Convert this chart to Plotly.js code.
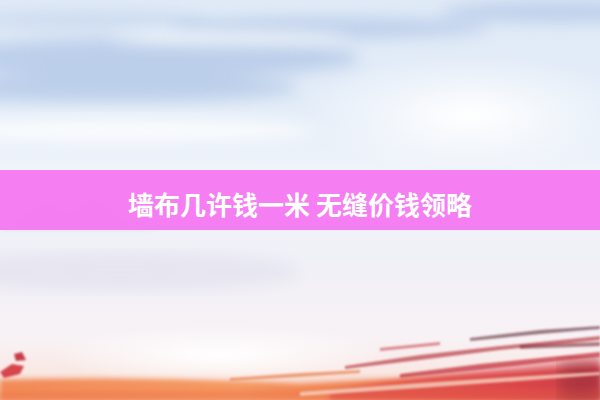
<!DOCTYPE html>
<html>
<head>
<meta charset="utf-8">
<script src="https://cdn.plot.ly/plotly-3.0.1.min.js"></script>
<style>
  html, body { margin: 0; padding: 0; background: #ffffff; }
  #chart { width: 600px; height: 400px; }
</style>
</head>
<body>
<div id="chart"></div>
<script>
// text on the banner
var bannerText = ['墙布几许钱一米', '无缝价钱领略'];
var bannerColor = '#f57af2';

// backdrop picture: sky, glow, sunset strip, brush strokes
var bg = '<svg xmlns="http://www.w3.org/2000/svg" width="600" height="400" viewBox="0 0 600 400">' +
  '<defs>' +
  '<linearGradient id="sky" x1="0" y1="0" x2="0" y2="1">' +
    '<stop offset="0" stop-color="#e0eaf7"/>' +
    '<stop offset="0.3" stop-color="#e4edf8"/>' +
    '<stop offset="0.45" stop-color="#f2f5fb"/>' +
    '<stop offset="0.65" stop-color="#f0f0f7"/>' +
    '<stop offset="0.85" stop-color="#f8f2f5"/>' +
    '<stop offset="0.93" stop-color="#f9e8e4"/>' +
    '<stop offset="1" stop-color="#f4b08c"/>' +
  '</linearGradient>' +
  '<linearGradient id="sun" x1="0" y1="0" x2="1" y2="0">' +
    '<stop offset="0" stop-color="#f28a58"/>' +
    '<stop offset="0.4" stop-color="#f59a62"/>' +
    '<stop offset="0.6" stop-color="#f07e50"/>' +
    '<stop offset="0.85" stop-color="#e2504a"/>' +
    '<stop offset="1" stop-color="#b8384a"/>' +
  '</linearGradient>' +
  '<radialGradient id="glow" cx="0.5" cy="0.5" r="0.5">' +
    '<stop offset="0" stop-color="#ffffff" stop-opacity="1"/>' +
    '<stop offset="1" stop-color="#ffffff" stop-opacity="0"/>' +
  '</radialGradient>' +
  '<filter id="b8"><feGaussianBlur stdDeviation="8"/></filter>' +
  '<filter id="b3"><feGaussianBlur stdDeviation="2.5"/></filter>' +
  '<filter id="b1"><feGaussianBlur stdDeviation="0.8"/></filter>' +
  '</defs>' +
  '<rect width="600" height="400" fill="url(#sky)"/>' +
  // blue streaks in the sky
  '<g filter="url(#b8)" fill="#b3c8e7" opacity="0.8">' +
    '<ellipse cx="150" cy="58" rx="210" ry="20"/>' +
    '<ellipse cx="110" cy="88" rx="190" ry="14"/>' +
    '<ellipse cx="330" cy="28" rx="160" ry="10"/>' +
    '<ellipse cx="560" cy="12" rx="120" ry="10"/>' +
    '<ellipse cx="90" cy="20" rx="120" ry="8" opacity="0.6"/>' +
  '</g>' +
  '<g filter="url(#b8)" fill="#ffffff" opacity="0.8">' +
    '<ellipse cx="230" cy="38" rx="120" ry="6"/>' +
    '<ellipse cx="120" cy="130" rx="200" ry="12"/>' +
  '</g>' +
  '<ellipse cx="470" cy="115" rx="170" ry="60" fill="url(#glow)"/>' +
  // faint hills on the left behind the banner
  '<path d="M0,230 L20,215 L45,200 L70,212 L95,196 L130,222 L160,230 Z" fill="#e7d9ea" opacity="0.7" filter="url(#b3)"/>' +
  // lavender haze under the banner
  '<ellipse cx="120" cy="272" rx="180" ry="20" fill="#e2e1ee" opacity="0.7" filter="url(#b8)"/>' +
  '<ellipse cx="220" cy="355" rx="170" ry="30" fill="url(#glow)"/>' +
  // sunset strip
  '<path d="M0,380 Q150,376 300,384 Q420,378 600,366 L600,400 L0,400 Z" fill="url(#sun)" filter="url(#b3)"/>' +
  '<path d="M0,392 L600,388 L600,400 L0,400 Z" fill="#ee7448" opacity="0.5" filter="url(#b3)"/>' +
  '<path d="M330,392 Q450,372 600,358 L600,400 L330,400 Z" fill="#d9414a" opacity="0.55" filter="url(#b3)"/>' +
  '<rect x="560" y="360" width="40" height="40" fill="#8a2a35" opacity="0.45" filter="url(#b8)"/>' +
  // brush strokes
  '<g filter="url(#b1)">' +
    '<path d="M345,366 L420,355 L500,346 L600,336 L600,340 L500,350 L420,360 L345,369 Z" fill="#b83a45" opacity="0.7"/>' +
    '<path d="M470,338 L540,330 L600,326 L600,329 L540,334 L470,341 Z" fill="#5a2630" opacity="0.6"/>' +
    '<path d="M400,374 L480,364 L560,356 L600,352 L600,357 L560,361 L480,370 L400,378 Z" fill="#c4303c" opacity="0.75"/>' +
    '<path d="M230,378 L300,373 L360,370 L360,373 L300,377 L230,381 Z" fill="#e8804f" opacity="0.7"/>' +
    '<path d="M380,348 L440,342 L440,345 L380,351 Z" fill="#c8404a" opacity="0.6"/>' +
    '<path d="M520,345 L600,342 L600,346 L520,349 Z" fill="#7a2a34" opacity="0.6"/>' +
    '<path d="M300,392 L420,383 L560,374 L600,372 L600,375 L560,378 L420,388 L300,396 Z" fill="#f6d3c0" opacity="0.8"/>' +
    '<path d="M0,372 L12,364 L24,366 L20,374 L4,378 Z" fill="#d02a32" opacity="0.85"/>' +
    '<path d="M14,354 L22,352 L26,360 L16,361 Z" fill="#c0202a" opacity="0.85"/>' +
  '</g>' +
  '</svg>';

var layout = {
  width: 600,
  height: 400,
  margin: {l: 0, r: 0, t: 0, b: 0},
  paper_bgcolor: '#ffffff',
  plot_bgcolor: 'rgba(0,0,0,0)',
  showlegend: false,
  xaxis: {range: [0, 600], visible: false, fixedrange: true},
  yaxis: {range: [400, 0], visible: false, fixedrange: true},
  images: [{
    source: 'data:image/svg+xml;charset=utf-8,' + encodeURIComponent(bg),
    xref: 'x', yref: 'y',
    x: 0, y: 0, sizex: 600, sizey: 400,
    sizing: 'stretch', layer: 'below'
  }],
  shapes: [{
    type: 'rect', xref: 'x', yref: 'y',
    x0: 0, x1: 600, y0: 170, y1: 230,
    fillcolor: bannerColor, opacity: 0.97,
    line: {width: 0}
  }],
  annotations: [{
    xref: 'x', yref: 'y',
    x: 300, y: 203,
    text: bannerText.join(' '),
    showarrow: false,
    font: {family: '"Noto Sans CJK SC", sans-serif', size: 26, color: '#ffffff', weight: 'bold'}
  }]
};

Plotly.newPlot('chart', [], layout, {displayModeBar: false, staticPlot: true});
</script>
</body>
</html>
